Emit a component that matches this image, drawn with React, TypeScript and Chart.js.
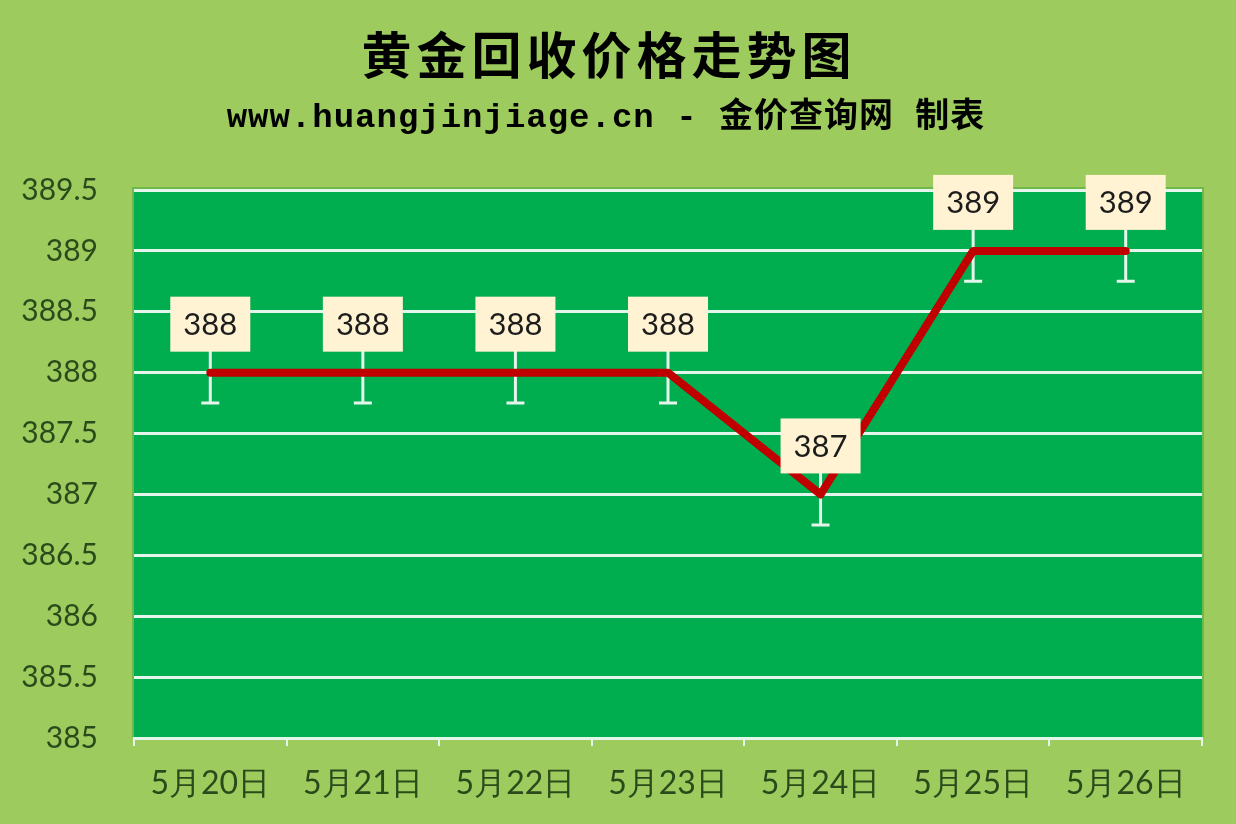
import React, { useEffect, useRef } from 'react';
import { Chart, registerables } from 'chart.js';

Chart.register(...registerables);

const titleText = '黄金回收价格走势图';
const subtitleText = 'www.huangjinjiage.cn - 金价查询网 制表';
const categories = ['5月20日', '5月21日', '5月22日', '5月23日', '5月24日', '5月25日', '5月26日'];
const prices = [388, 388, 388, 388, 387, 389, 389];
const errorMinus = [0.25, 0.25, 0.25, 0.25, 0.25, 0.25, 0.25];
const yMin = 385;
const yMax = 389.5;
const yStep = 0.5;

const PAGE_BG = '#9dcb5d';
const PLOT_BG = '#00ad4f';
const GRID = '#e4f6ec';
const AXIS_TEXT = '#2b4a1c';

// fond vert, titres
const decorPlugin = {
  id: 'decor',
  beforeDraw(chart: any) {
    const { ctx, chartArea: a } = chart;
    ctx.save();
    ctx.fillStyle = PAGE_BG;
    ctx.fillRect(0, 0, chart.width, chart.height);
    ctx.fillStyle = '#6fb84a';
    ctx.fillRect(a.left - 2, a.top - 3, a.right - a.left + 4, a.bottom - a.top + 3);
    ctx.fillStyle = PLOT_BG;
    ctx.fillRect(a.left, a.top, a.right - a.left, a.bottom - a.top);

    ctx.fillStyle = '#000';
    ctx.textAlign = 'center';
    ctx.textBaseline = 'middle';
    ctx.font = 'bold 50px "Noto Sans CJK SC"';
    (ctx as any).letterSpacing = '5px';
    ctx.fillText(titleText, 609, 55);
    ctx.font = 'bold 34px "Liberation Mono", "Noto Sans CJK SC"';
    (ctx as any).letterSpacing = '1px';
    ctx.fillText(subtitleText, 606, 118);
    (ctx as any).letterSpacing = '0px';
    ctx.restore();
  },
};

// barres d'erreur (vers le bas) + traits vers les étiquettes
const errorBarPlugin = {
  id: 'errorBars',
  beforeDatasetsDraw(chart: any) {
    const { ctx } = chart;
    const xs = chart.scales.x;
    const ys = chart.scales.y;
    ctx.save();
    ctx.strokeStyle = GRID;
    ctx.lineWidth = 3;
    prices.forEach((v, i) => {
      const x = xs.getPixelForValue(i);
      const y = ys.getPixelForValue(v);
      const yLow = ys.getPixelForValue(v - errorMinus[i]);
      ctx.beginPath();
      ctx.moveTo(x, y - 24);
      ctx.lineTo(x, yLow);
      ctx.moveTo(x - 9, yLow);
      ctx.lineTo(x + 9, yLow);
      ctx.stroke();
    });
    ctx.restore();
  },
  afterDatasetsDraw(chart: any) {
    const { ctx } = chart;
    const xs = chart.scales.x;
    const ys = chart.scales.y;
    ctx.save();
    prices.forEach((v, i) => {
      const x = xs.getPixelForValue(i);
      const y = ys.getPixelForValue(v);
      const w = 80;
      const h = 55;
      const bottom = y - 21;
      ctx.fillStyle = '#fff3d3';
      ctx.fillRect(x - w / 2, bottom - h, w, h);
      ctx.fillStyle = '#1c1c1c';
      ctx.font = '31px Lato';
      ctx.textAlign = 'center';
      ctx.textBaseline = 'middle';
      ctx.fillText(String(v), x, bottom - h / 2 + 1);
    });
    ctx.restore();
  },
};

const GoldChart: React.FC = () => {
  const canvasRef = useRef<HTMLCanvasElement | null>(null);
  const chartInstance = useRef<Chart | null>(null);

  useEffect(() => {
    document.body.style.margin = '0';
    const ctx = canvasRef.current?.getContext('2d');
    if (!ctx) return;
    if (chartInstance.current) chartInstance.current.destroy();

    //@ts-ignore
    chartInstance.current = new Chart(ctx, {
      type: 'line',
      data: {
        labels: categories,
        datasets: [
          {
            data: prices,
            borderColor: '#c00000',
            borderWidth: 8,
            tension: 0,
            pointRadius: 0,
            borderCapStyle: 'round',
            borderJoinStyle: 'round',
          },
        ],
      },
      options: {
        animation: false,
        responsive: true,
        maintainAspectRatio: false,
        layout: { padding: { top: 190, right: 34, left: 0, bottom: 0 } },
        plugins: {
          legend: { display: false },
          tooltip: { enabled: false },
        },
        scales: {
          x: {
            offset: true,
            grid: {
              offset: true,
              drawOnChartArea: false,
              drawTicks: true,
              tickLength: 8,
              color: GRID,
              lineWidth: 2,
            },
            border: { display: true, color: GRID, width: 3 },
            ticks: {
              color: AXIS_TEXT,
              font: { family: 'Lato', size: 32 },
              padding: 18,
              maxRotation: 0,
            },
            afterFit(scale: any) {
              scale.height = 86;
            },
          },
          y: {
            min: yMin,
            max: yMax,
            grid: { color: GRID, lineWidth: 3, drawTicks: false },
            border: { display: false },
            ticks: {
              stepSize: yStep,
              color: AXIS_TEXT,
              font: { family: 'Lato', size: 30 },
              padding: 36,
              callback: (v: any) => String(Number(v)),
            },
            afterFit(scale: any) {
              scale.width = 134;
            },
          },
        },
      },
      plugins: [decorPlugin, errorBarPlugin],
    });

    return () => {
      if (chartInstance.current) {
        chartInstance.current.destroy();
        chartInstance.current = null;
      }
    };
  }, []);

  return (
    <div style={{ width: 1236, height: 824, position: 'relative', background: PAGE_BG }}>
      <canvas ref={canvasRef} />
    </div>
  );
};

export default function App() {
  return <GoldChart />;
}
